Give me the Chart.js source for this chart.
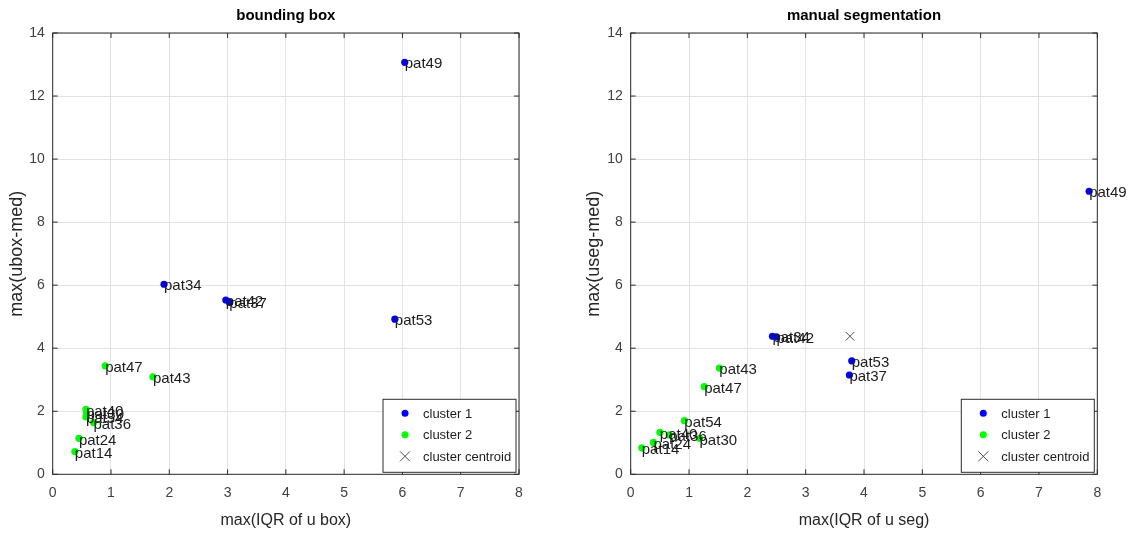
<!DOCTYPE html>
<html>
<head>
<meta charset="utf-8">
<script src="https://cdn.jsdelivr.net/npm/chart.js@4"></script>
<style>
    body { margin: 0; background: #fff; }
    .panel { position: absolute; top: 0; width: 566px; height: 533px; }
</style>
</head>
<body>
<div class="panel" style="left:0"><canvas id="boxChart" width="566" height="533"></canvas></div>
<div class="panel" style="left:566px"><canvas id="segChart" width="566" height="533"></canvas></div>
<script>
// tick values
const xTicks = [0, 1, 2, 3, 4, 5, 6, 7, 8];
const yTicks = [0, 2, 4, 6, 8, 10, 12, 14];

// bounding box panel
const boxC1Names = ['pat49', 'pat34', 'pat42', 'pat37', 'pat53'];
const boxC1X = [6.04, 1.91, 2.97, 3.03, 5.87];
const boxC1Y = [13.07, 6.03, 5.53, 5.46, 4.92];
const boxC2Names = ['pat47', 'pat43', 'pat40', 'pat30', 'pat54', 'pat36', 'pat24', 'pat14'];
const boxC2X = [0.90, 1.72, 0.57, 0.58, 0.57, 0.70, 0.45, 0.38];
const boxC2Y = [3.44, 3.09, 2.06, 1.94, 1.82, 1.64, 1.14, 0.72];
const boxCentX = [];
const boxCentY = [];

// manual segmentation panel
const segC1Names = ['pat49', 'pat34', 'pat42', 'pat53', 'pat37'];
const segC1X = [7.86, 2.43, 2.50, 3.79, 3.75];
const segC1Y = [8.98, 4.38, 4.36, 3.60, 3.15];
const segC2Names = ['pat43', 'pat47', 'pat54', 'pat40', 'pat36', 'pat24', 'pat14', 'pat30'];
const segC2X = [1.52, 1.26, 0.92, 0.50, 0.66, 0.39, 0.19, 1.18];
const segC2Y = [3.37, 2.78, 1.70, 1.33, 1.25, 1.01, 0.84, 1.14];
const segCentX = [3.76];
const segCentY = [4.38];

const FONT = '"Liberation Sans", Arial, sans-serif';
const toPoints = (xs, ys) => xs.map((x, i) => ({ x: x, y: ys[i] }));

const pointLabels = {
    id: 'pointLabels',
    afterDatasetsDraw(chart) {
        const ctx = chart.ctx;
        ctx.save();
        ctx.font = '15px ' + FONT;
        ctx.fillStyle = '#1c1c1c';
        ctx.textBaseline = 'middle';
        chart.data.datasets.forEach((ds, i) => {
            if (!ds.names) return;
            chart.getDatasetMeta(i).data.forEach((pt, j) => {
                ctx.fillText(ds.names[j], pt.x, pt.y + 2);
            });
        });
        ctx.restore();
    }
};

const axesBox = {
    id: 'axesBox',
    afterDatasetsDraw(chart) {
        const { ctx, chartArea: a, scales } = chart;
        ctx.save();
        ctx.strokeStyle = '#2b2b2b';
        ctx.lineWidth = 1;
        ctx.strokeRect(a.left, a.top, a.right - a.left, a.bottom - a.top);
        ctx.beginPath();
        xTicks.forEach(v => {
            const px = scales.x.getPixelForValue(v);
            ctx.moveTo(px, a.bottom); ctx.lineTo(px, a.bottom - 5);
            ctx.moveTo(px, a.top); ctx.lineTo(px, a.top + 5);
        });
        yTicks.forEach(v => {
            const py = scales.y.getPixelForValue(v);
            ctx.moveTo(a.left, py); ctx.lineTo(a.left + 5, py);
            ctx.moveTo(a.right, py); ctx.lineTo(a.right - 5, py);
        });
        ctx.stroke();
        ctx.restore();
    }
};

const titleAndLegend = {
    id: 'titleAndLegend',
    afterDraw(chart) {
        const { ctx, chartArea: a } = chart;
        const opts = chart.options.plugins.titleAndLegend;
        ctx.save();
        ctx.font = 'bold 15px ' + FONT;
        ctx.fillStyle = '#000';
        ctx.textAlign = 'center';
        ctx.textBaseline = 'middle';
        ctx.fillText(opts.title, (a.left + a.right) / 2, 16);

        // legend box in lower right corner
        const w = 133, h = 73;
        const lx = a.right - 3 - w, ly = a.bottom - 2 - h;
        ctx.fillStyle = '#fff';
        ctx.fillRect(lx, ly, w, h);
        ctx.strokeStyle = '#2b2b2b';
        ctx.strokeRect(lx, ly, w, h);
        ctx.font = '13px ' + FONT;
        ctx.textAlign = 'left';
        chart.data.datasets.forEach((ds, i) => {
            const cy = ly + 14 + i * 21.5;
            const mx = lx + 22;
            if (ds.pointStyle === 'crossRot') {
                ctx.strokeStyle = ds.borderColor;
                ctx.beginPath();
                ctx.moveTo(mx - 5, cy - 5); ctx.lineTo(mx + 5, cy + 5);
                ctx.moveTo(mx + 5, cy - 5); ctx.lineTo(mx - 5, cy + 5);
                ctx.stroke();
            } else {
                ctx.fillStyle = ds.backgroundColor;
                ctx.beginPath();
                ctx.arc(mx, cy, 3.5, 0, Math.PI * 2);
                ctx.fill();
            }
            ctx.fillStyle = '#1c1c1c';
            ctx.fillText(ds.label, lx + 40, cy + 1);
        });
        ctx.restore();
    }
};

const makeChart = (id, c) => {
    const ctx = document.getElementById(id).getContext('2d');
    return new Chart(ctx, {
        type: 'scatter',
        data: {
            datasets: [{
                label: 'cluster 1',
                names: c.c1Names,
                data: toPoints(c.c1X, c.c1Y),
                backgroundColor: '#0000ff',
                borderWidth: 0,
                pointRadius: 3.6
            }, {
                label: 'cluster 2',
                names: c.c2Names,
                data: toPoints(c.c2X, c.c2Y),
                backgroundColor: '#00ff00',
                borderWidth: 0,
                pointRadius: 3.6
            }, {
                label: 'cluster centroid',
                data: toPoints(c.centX, c.centY),
                pointStyle: 'crossRot',
                borderColor: '#505050',
                backgroundColor: '#505050',
                borderWidth: 1,
                pointRadius: 6
            }]
        },
        options: {
            responsive: false,
            animation: false,
            events: [],
            layout: { padding: { top: 33, right: c.padRight, left: 0, bottom: 0 } },
            plugins: {
                legend: { display: false },
                title: { display: false },
                tooltip: { enabled: false },
                titleAndLegend: { title: c.title }
            },
            scales: {
                x: {
                    type: 'linear',
                    min: 0,
                    max: 8,
                    afterFit: s => { s.height = 58.7; },
                    afterBuildTicks: s => { s.ticks = xTicks.map(v => ({ value: v })); },
                    grid: { color: '#e3e3e3', drawTicks: false },
                    border: { display: false },
                    ticks: { padding: 10, color: '#404040', font: { family: FONT, size: 14 } },
                    title: {
                        display: true,
                        text: c.xTitle,
                        color: '#262626',
                        padding: { top: 0, bottom: 3 },
                        font: { family: FONT, size: 16 }
                    }
                },
                y: {
                    type: 'linear',
                    min: 0,
                    max: 14,
                    afterFit: s => { s.width = c.yWidth; },
                    afterBuildTicks: s => { s.ticks = yTicks.map(v => ({ value: v })); },
                    grid: { color: '#e3e3e3', drawTicks: false },
                    border: { display: false },
                    ticks: { padding: 8, color: '#404040', font: { family: FONT, size: 14 } },
                    title: {
                        display: true,
                        text: c.yTitle,
                        color: '#262626',
                        padding: { top: c.yTitlePad, bottom: 0 },
                        font: { family: FONT, size: 18 }
                    }
                }
            }
        },
        plugins: [axesBox, pointLabels, titleAndLegend]
    });
};

makeChart('boxChart', {
    title: 'bounding box',
    xTitle: 'max(IQR of u box)',
    yTitle: 'max(ubox-med)',
    c1Names: boxC1Names, c1X: boxC1X, c1Y: boxC1Y,
    c2Names: boxC2Names, c2X: boxC2X, c2Y: boxC2Y,
    centX: boxCentX, centY: boxCentY,
    yWidth: 52.7, yTitlePad: 6, padRight: 47
});

makeChart('segChart', {
    title: 'manual segmentation',
    xTitle: 'max(IQR of u seg)',
    yTitle: 'max(useg-med)',
    c1Names: segC1Names, c1X: segC1X, c1Y: segC1Y,
    c2Names: segC2Names, c2X: segC2X, c2Y: segC2Y,
    centX: segCentX, centY: segCentY,
    yWidth: 64.7, yTitlePad: 17, padRight: 34.7
});
</script>
</body>
</html>
